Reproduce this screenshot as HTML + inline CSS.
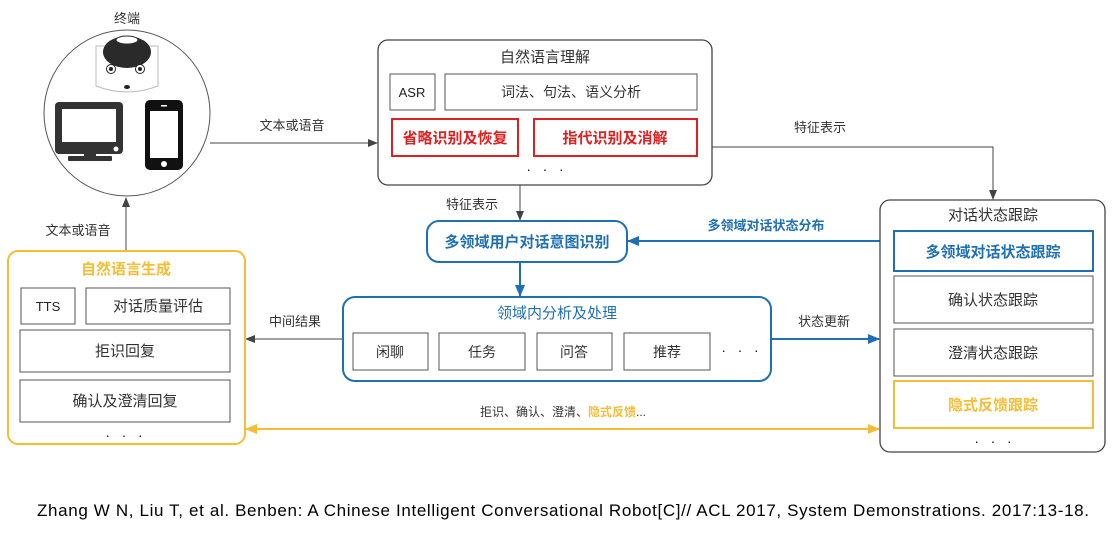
<!DOCTYPE html>
<html><head><meta charset="utf-8"><style>
body{margin:0;background:#fff;width:1116px;height:530px;overflow:hidden}
text{font-family:"Liberation Sans","Noto Sans CJK SC",sans-serif}
</style></head><body>
<svg width="1116" height="530" viewBox="0 0 1116 530" xmlns="http://www.w3.org/2000/svg">
<defs>
<marker id="ak" markerWidth="10" markerHeight="10" refX="9" refY="5" orient="auto" markerUnits="userSpaceOnUse"><path d="M0,1 L10,5 L0,9 z" fill="#444"/></marker>
<marker id="ab" markerWidth="12" markerHeight="12" refX="11" refY="6" orient="auto" markerUnits="userSpaceOnUse"><path d="M0,1 L12,6 L0,11 z" fill="#1f6fb5"/></marker>
<marker id="ay" markerWidth="12" markerHeight="12" refX="11" refY="6" orient="auto-start-reverse" markerUnits="userSpaceOnUse"><path d="M0,1 L12,6 L0,11 z" fill="#f5bd35"/></marker>
</defs>
<g font-size="13" fill="#333">
<!-- terminal -->
<text x="127" y="23" text-anchor="middle">终端</text>
<circle cx="127" cy="113" r="83" fill="#fff" stroke="#555" stroke-width="1"/>
<path d="M96,46 L158,46 L158,86 Q127,98 96,86 z" fill="#fff" stroke="#bbb"/>
<ellipse cx="127" cy="52" rx="24" ry="16" fill="#2a2a2a"/>
<ellipse cx="127" cy="40" rx="11" ry="4" fill="#fff" stroke="#2a2a2a"/>
<circle cx="111" cy="69" r="4.5" fill="#fff" stroke="#222"/><circle cx="111" cy="69" r="2" fill="#222"/>
<circle cx="140" cy="69" r="4.5" fill="#fff" stroke="#222"/><circle cx="140" cy="69" r="2" fill="#222"/>
<ellipse cx="127" cy="87" rx="3" ry="2" fill="#222"/>
<rect x="55" y="102" width="68" height="52" rx="4" fill="#333"/>
<rect x="62" y="109" width="54" height="33" fill="#fff"/>
<circle cx="116" cy="149" r="2.5" fill="#fff"/>
<rect x="84" y="154" width="12" height="3" fill="#333"/>
<rect x="68" y="156" width="44" height="5" rx="1" fill="#333"/>
<rect x="145" y="100" width="38" height="70" rx="5" fill="#111"/>
<rect x="150" y="111" width="28" height="47" fill="#fff"/>
<rect x="161" y="105" width="6" height="1.5" fill="#fff"/>
<circle cx="164" cy="164" r="3" fill="#fff"/>

<!-- arrows -->
<line x1="210" y1="143" x2="377" y2="143" stroke="#444" marker-end="url(#ak)"/>
<text x="292" y="130" text-anchor="middle">文本或语音</text>
<line x1="126" y1="251" x2="126" y2="198" stroke="#444" marker-end="url(#ak)"/>
<text x="78" y="235" text-anchor="middle">文本或语音</text>
<polyline points="712,147 993,147 993,199" fill="none" stroke="#444" marker-end="url(#ak)"/>
<text x="820" y="132" text-anchor="middle">特征表示</text>
<line x1="520" y1="185" x2="520" y2="220" stroke="#444" marker-end="url(#ak)"/>
<text x="472" y="209" text-anchor="middle">特征表示</text>
<line x1="520" y1="262" x2="520" y2="296" stroke="#1f6fb5" stroke-width="2" marker-end="url(#ab)"/>
<line x1="880" y1="241" x2="628" y2="241" stroke="#1f6fb5" stroke-width="2" marker-end="url(#ab)"/>
<text x="766" y="230" text-anchor="middle" fill="#1f6fb5" font-weight="bold">多领域对话状态分布</text>
<line x1="771" y1="339" x2="879" y2="339" stroke="#1f6fb5" stroke-width="2" marker-end="url(#ab)"/>
<text x="824" y="326" text-anchor="middle">状态更新</text>
<line x1="343" y1="339" x2="246" y2="339" stroke="#444" marker-end="url(#ak)"/>
<text x="295" y="326" text-anchor="middle">中间结果</text>
<line x1="246" y1="429" x2="879" y2="429" stroke="#f5bd35" stroke-width="2" marker-start="url(#ay)" marker-end="url(#ay)"/>
<text x="563" y="416" text-anchor="middle" font-size="12">拒识、确认、澄清、<tspan fill="#f5bd35" font-weight="bold">隐式反馈</tspan>...</text>

<!-- NLU -->
<rect x="378" y="40" width="334" height="145" rx="10" fill="#fff" stroke="#444" stroke-width="1.3"/>
<text x="545" y="62" text-anchor="middle" font-size="15">自然语言理解</text>
<rect x="390" y="74" width="45" height="36" fill="#fff" stroke="#555"/>
<text x="412" y="97" text-anchor="middle" font-size="13" fill="#222">ASR</text>
<rect x="445" y="74" width="252" height="36" fill="#fff" stroke="#555"/>
<text x="571" y="97" text-anchor="middle" font-size="14">词法、句法、语义分析</text>
<rect x="392" y="119" width="126" height="37" fill="#fff" stroke="#e02020" stroke-width="2"/>
<text x="455" y="143" text-anchor="middle" font-size="15" fill="#e02020" font-weight="bold">省略识别及恢复</text>
<rect x="534" y="119" width="163" height="37" fill="#fff" stroke="#e02020" stroke-width="2"/>
<text x="615" y="143" text-anchor="middle" font-size="15" fill="#e02020" font-weight="bold">指代识别及消解</text>
<text x="545" y="174" text-anchor="middle" font-size="14" fill="#111">·&#160;&#160;&#160;·&#160;&#160;&#160;·</text>

<!-- intent -->
<rect x="427" y="221" width="200" height="41" rx="12" fill="#fff" stroke="#1f6fb5" stroke-width="2"/>
<text x="527" y="247" text-anchor="middle" font-size="15" fill="#1f6fb5" font-weight="bold">多领域用户对话意图识别</text>

<!-- domain -->
<rect x="343" y="297" width="428" height="84" rx="12" fill="#fff" stroke="#1f6fb5" stroke-width="2"/>
<text x="557" y="318" text-anchor="middle" font-size="15" fill="#1f6fb5">领域内分析及处理</text>
<rect x="353" y="333" width="75" height="37" fill="#fff" stroke="#555"/>
<text x="390" y="357" text-anchor="middle" font-size="14">闲聊</text>
<rect x="439" y="333" width="86" height="37" fill="#fff" stroke="#555"/>
<text x="482" y="357" text-anchor="middle" font-size="14">任务</text>
<rect x="537" y="333" width="75" height="37" fill="#fff" stroke="#555"/>
<text x="574" y="357" text-anchor="middle" font-size="14">问答</text>
<rect x="624" y="333" width="86" height="37" fill="#fff" stroke="#555"/>
<text x="667" y="357" text-anchor="middle" font-size="14">推荐</text>
<text x="740" y="355" text-anchor="middle" font-size="14" fill="#111">·&#160;&#160;&#160;·&#160;&#160;&#160;·</text>

<!-- DST -->
<rect x="880" y="200" width="225" height="252" rx="10" fill="#fff" stroke="#444" stroke-width="1.3"/>
<text x="993" y="220" text-anchor="middle" font-size="15">对话状态跟踪</text>
<rect x="894" y="231" width="199" height="40" fill="#fff" stroke="#1f6fb5" stroke-width="2"/>
<text x="993" y="257" text-anchor="middle" font-size="15" fill="#1f6fb5" font-weight="bold">多领域对话状态跟踪</text>
<rect x="894" y="276" width="199" height="47" fill="#fff" stroke="#555"/>
<text x="993" y="305" text-anchor="middle" font-size="15">确认状态跟踪</text>
<rect x="894" y="329" width="199" height="47" fill="#fff" stroke="#555"/>
<text x="993" y="358" text-anchor="middle" font-size="15">澄清状态跟踪</text>
<rect x="894" y="381" width="199" height="47" fill="#fff" stroke="#f5bd35" stroke-width="2"/>
<text x="993" y="410" text-anchor="middle" font-size="15" fill="#f5bd35" font-weight="bold">隐式反馈跟踪</text>
<text x="993" y="446" text-anchor="middle" font-size="14" fill="#111">·&#160;&#160;&#160;·&#160;&#160;&#160;·</text>

<!-- NLG -->
<rect x="8" y="251" width="237" height="193" rx="10" fill="#fff" stroke="#f5bd35" stroke-width="2"/>
<text x="126" y="274" text-anchor="middle" font-size="15" fill="#f5bd35" font-weight="bold">自然语言生成</text>
<rect x="21" y="288" width="54" height="36" fill="#fff" stroke="#555"/>
<text x="48" y="311" text-anchor="middle" font-size="13" fill="#222">TTS</text>
<rect x="86" y="288" width="144" height="36" fill="#fff" stroke="#555"/>
<text x="158" y="311" text-anchor="middle" font-size="15">对话质量评估</text>
<rect x="20" y="330" width="210" height="42" fill="#fff" stroke="#555"/>
<text x="125" y="356" text-anchor="middle" font-size="15">拒识回复</text>
<rect x="20" y="380" width="210" height="42" fill="#fff" stroke="#555"/>
<text x="125" y="406" text-anchor="middle" font-size="15">确认及澄清回复</text>
<text x="124" y="440" text-anchor="middle" font-size="14" fill="#111">·&#160;&#160;&#160;·&#160;&#160;&#160;·</text>
</g>
<text x="563" y="516" text-anchor="middle" font-size="17" fill="#000" textLength="1052">Zhang W N, Liu T, et al. Benben: A Chinese Intelligent Conversational Robot[C]// ACL 2017, System Demonstrations. 2017:13-18.</text>
</svg>
</body></html>
